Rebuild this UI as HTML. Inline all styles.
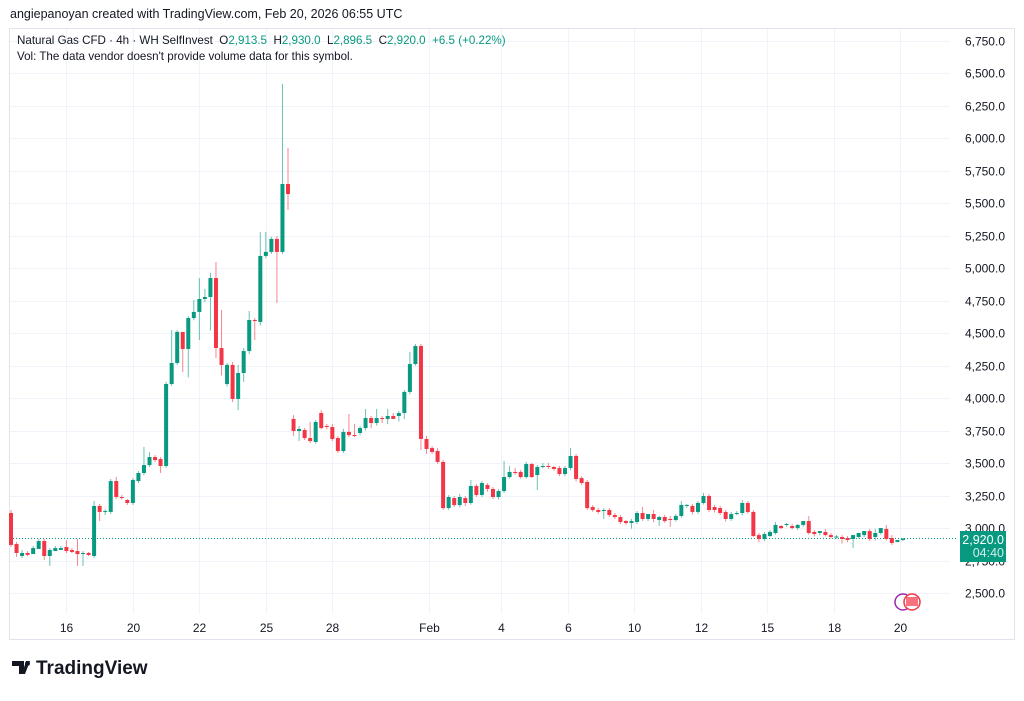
<!DOCTYPE html>
<html><head><meta charset="utf-8">
<style>
body{margin:0;background:#fff;width:1024px;height:696px;overflow:hidden;font-family:"Liberation Sans","DejaVu Sans",sans-serif}
svg text{font-family:"Liberation Sans","DejaVu Sans",sans-serif}
</style></head>
<body>
<svg id="chart" width="1024" height="696" xmlns="http://www.w3.org/2000/svg">
<text x="10" y="18" font-size="12.5" fill="#131722">angiepanoyan created with TradingView.com, Feb 20, 2026 06:55 UTC</text>
<rect x="9.5" y="28.5" width="1005" height="611" fill="none" stroke="#e0e3eb"/>
<g id="grid"></g>
<g id="candles"></g>
<g font-size="11.6">
<text x="17" y="44" fill="#131722" xml:space="preserve">Natural Gas CFD · 4h · WH SelfInvest  <tspan fill="#131722">O</tspan><tspan fill="#089981">2,913.5</tspan>  <tspan fill="#131722">H</tspan><tspan fill="#089981">2,930.0</tspan>  <tspan fill="#131722">L</tspan><tspan fill="#089981">2,896.5</tspan>  <tspan fill="#131722">C</tspan><tspan fill="#089981">2,920.0</tspan>  <tspan fill="#089981">+6.5 (+0.22%)</tspan></text>
<text x="17" y="60" fill="#131722">Vol: The data vendor doesn't provide volume data for this symbol.</text>
</g>
<g>
<circle cx="903" cy="602" r="8" fill="#fff" stroke="#9c27b0" stroke-width="1.5"/>
<circle cx="912" cy="602" r="8" fill="#fff" stroke="#f23645" stroke-width="1.5"/>
<rect x="906" y="597" width="12" height="9" fill="#f23645" opacity="0.7"/>
</g>
<rect x="960" y="531" width="46" height="31" fill="#089981"/>
<text x="1004" y="544" font-size="12.5" fill="#fff" text-anchor="end">2,920.0</text>
<text x="1004" y="557" font-size="12.5" fill="#d0eee8" text-anchor="end">04:40</text>
<g>
<path d="M12 661h12v13h-5v-8h-7z M26 661h4l-5 13h-3z" fill="#131722"/>
<circle cx="27.5" cy="663.5" r="2.5" fill="#131722"/>
<text x="36" y="674" font-size="19" font-weight="bold" fill="#131722">TradingView</text>
</g>
</svg>
<script>
const priceTicks=[2500,2750,3000,3250,3500,3750,4000,4250,4500,4750,5000,5250,5500,5750,6000,6250,6500,6750];
const priceTickLabels=["2,500.0","2,750.0","3,000.0","3,250.0","3,500.0","3,750.0","4,000.0","4,250.0","4,500.0","4,750.0","5,000.0","5,250.0","5,500.0","5,750.0","6,000.0","6,250.0","6,500.0","6,750.0"];
const dateLabels=["16","20","22","25","28","Feb","4","6","10","12","15","18","20"];
const dateLabelIndex=[10,22,34,46,58,75.5,88.5,100.5,112.5,124.5,136.5,148.5,160.5];
const opens=[3116,2877,2785,2808,2800,2839,2900,2785,2823,2831,2854,2831,2823,2808,2808,2785,3170,3124,3124,3362,3239,3216,3193,3362,3424,3485,3547,3531,3478,4109,4271,4510,4379,4617,4664,4764,4779,4925,4386,4109,4256,3994,4194,4363,4602,4587,5095,5126,5226,5126,5649,3840,3747,3755,3693,3663,3886,3786,3778,3693,3593,3740,3716,3732,3770,3847,3809,3847,3840,3863,3863,3886,4048,4263,4402,3686,3616,3593,3509,3154,3231,3177,3231,3193,3324,3255,3332,3301,3239,3285,3393,3432,3432,3393,3493,3408,3470,3478,3470,3462,3416,3462,3555,3385,3355,3162,3139,3131,3139,3100,3085,3054,3039,3047,3116,3070,3108,3062,3085,3070,3062,3093,3170,3170,3124,3193,3247,3162,3154,3124,3070,3108,3116,3193,3124,2946,2916,2939,2962,3016,3024,3016,3000,3024,3054,2970,2962,2970,2946,2931,2931,2923,2916,2931,2946,2977,2931,2962,2993,2923,2893,2908];
const closes=[2870,2808,2808,2793,2846,2900,2785,2831,2846,2846,2823,2816,2800,2808,2793,3170,3124,3131,3362,3239,3235,3193,3370,3424,3485,3547,3524,3478,4109,4271,4510,4379,4617,4664,4764,4779,4925,4386,4256,4256,3994,4194,4363,4602,4594,5095,5126,5226,5126,5649,5572,3747,3763,3693,3670,3817,3770,3778,3686,3593,3740,3716,3709,3770,3847,3809,3847,3840,3863,3840,3886,4048,4263,4402,3686,3609,3586,3509,3154,3239,3177,3239,3193,3324,3255,3347,3301,3239,3285,3393,3432,3424,3393,3493,3393,3470,3478,3470,3455,3416,3462,3555,3378,3347,3154,3139,3124,3139,3100,3085,3047,3039,3054,3116,3070,3108,3070,3085,3054,3062,3093,3178,3178,3124,3193,3247,3139,3139,3116,3070,3108,3116,3193,3124,2939,2916,2954,2970,3024,3000,3031,3000,3024,3054,2962,2954,2977,2946,2931,2935,2916,2908,2946,2962,2977,2916,2962,3000,2916,2885,2908,2920];
const highs=[3139,2893,2831,2823,2862,2916,2916,2846,2862,2862,2908,2846,2916,2823,2816,3208,3185,3145,3378,3393,3255,3224,3385,3440,3624,3585,3562,3547,4125,4525,4525,4418,4632,4756,4925,4841,4964,5049,4679,4271,4279,4256,4387,4671,4617,5280,5280,5242,5249,6419,5926,3870,3786,3770,3816,3833,3909,3801,3801,3709,3763,3878,3801,3786,3917,3863,3917,3863,3917,3886,3901,4063,4356,4418,4418,3709,3632,3616,3524,3254,3247,3262,3247,3370,3339,3362,3347,3316,3300,3516,3478,3462,3447,3508,3501,3485,3501,3501,3478,3478,3478,3617,3570,3400,3370,3177,3154,3154,3154,3116,3100,3062,3070,3131,3162,3093,3139,3093,3101,3093,3108,3208,3185,3185,3208,3270,3262,3177,3170,3139,3124,3131,3216,3208,3139,2962,2970,2985,3047,3024,3039,3031,3031,3039,3093,2985,2977,2993,2962,2946,2946,2939,2931,2962,2977,2993,2993,2970,3024,2946,2900,2916,2928];
const lows=[2854,2777,2769,2785,2831,2885,2754,2708,2831,2831,2808,2808,2708,2708,2785,2770,3054,3100,3108,3224,3220,3178,3178,3347,3408,3470,3508,3424,3462,4094,4256,4200,4160,4600,4448,4740,4520,4310,4176,4090,3970,3909,4125,4340,4448,4560,5080,5110,4733,5110,5449,3710,3670,3678,3655,3650,3760,3760,3670,3578,3578,3700,3700,3716,3750,3770,3790,3808,3800,3840,3820,3840,4030,4250,3600,3570,3570,3495,3140,3140,3162,3160,3170,3180,3240,3240,3280,3224,3220,3270,3380,3410,3380,3380,3385,3293,3460,3455,3440,3400,3400,3445,3360,3330,3140,3125,3110,3070,3085,3070,3030,3025,2995,3030,3055,3055,3045,3015,3040,3010,3050,3080,3155,3105,3110,3180,3124,3120,3100,3050,3055,3100,3100,3110,2930,2890,2900,2930,2950,2990,3010,2990,2985,3010,2950,2935,2945,2935,2920,2920,2880,2890,2846,2920,2930,2900,2905,2950,2905,2870,2890,2900];

const svg=document.getElementById('chart');
const NS='http://www.w3.org/2000/svg';
const plotL=10,plotR=950,plotT=29,plotB=614;
const x0=11,step=5.54;
function xScale(i){return x0+i*step;}
function yScale(p){return 593-(p-2500)*(552/4250);}
const grid=document.getElementById('grid');
const cg=document.getElementById('candles');
function mk(tag,attrs,parent){const e=document.createElementNS(NS,tag);for(const k in attrs)e.setAttribute(k,attrs[k]);parent.appendChild(e);return e;}
priceTicks.forEach((p,i)=>{
  const y=Math.round(yScale(p))+0.5;
  const l=mk('line',{x1:plotL,x2:plotR,y1:y,y2:y,stroke:'#f0f3fa'},grid);
  
  
  const t=mk('text',{x:1005,y:y+4,'font-size':12,fill:'#131722','text-anchor':'end'},grid);
  t.textContent=priceTickLabels[i];
  
  
});
dateLabels.forEach((d,i)=>{
  const x=Math.round(xScale(dateLabelIndex[i]))+0.5;
  const l=mk('line',{x1:x,x2:x,y1:plotT,y2:plotB,stroke:'#f0f3fa'},grid);
  
  
  const t=mk('text',{x:x,y:632,'font-size':12,fill:'#131722','text-anchor':'middle'},grid);
  t.textContent=d;
  
  
});
const lastY=Math.round(yScale(closes[closes.length-1]))+0.5;
const dl=mk('line',{x1:plotL,x2:958,y1:lastY,y2:lastY,stroke:'#089981','stroke-dasharray':'1 2'},grid);


opens.forEach((o,i)=>{
  const c=closes[i],h=highs[i],lo=lows[i];
  const up=c>=o;const col=up?'#089981':'#f23645';
  const x=xScale(i);
  const g=mk('g',{},cg);
  
  
  mk('line',{x1:x,x2:x,y1:yScale(h),y2:yScale(lo),stroke:col,'stroke-opacity':0.6,'stroke-width':1},g);
  const yt=yScale(Math.max(o,c)),yb=yScale(Math.min(o,c));
  mk('rect',{x:x-2,y:yt,width:4,height:Math.max(1,yb-yt),fill:col},g);
});
</script>
</body></html>
